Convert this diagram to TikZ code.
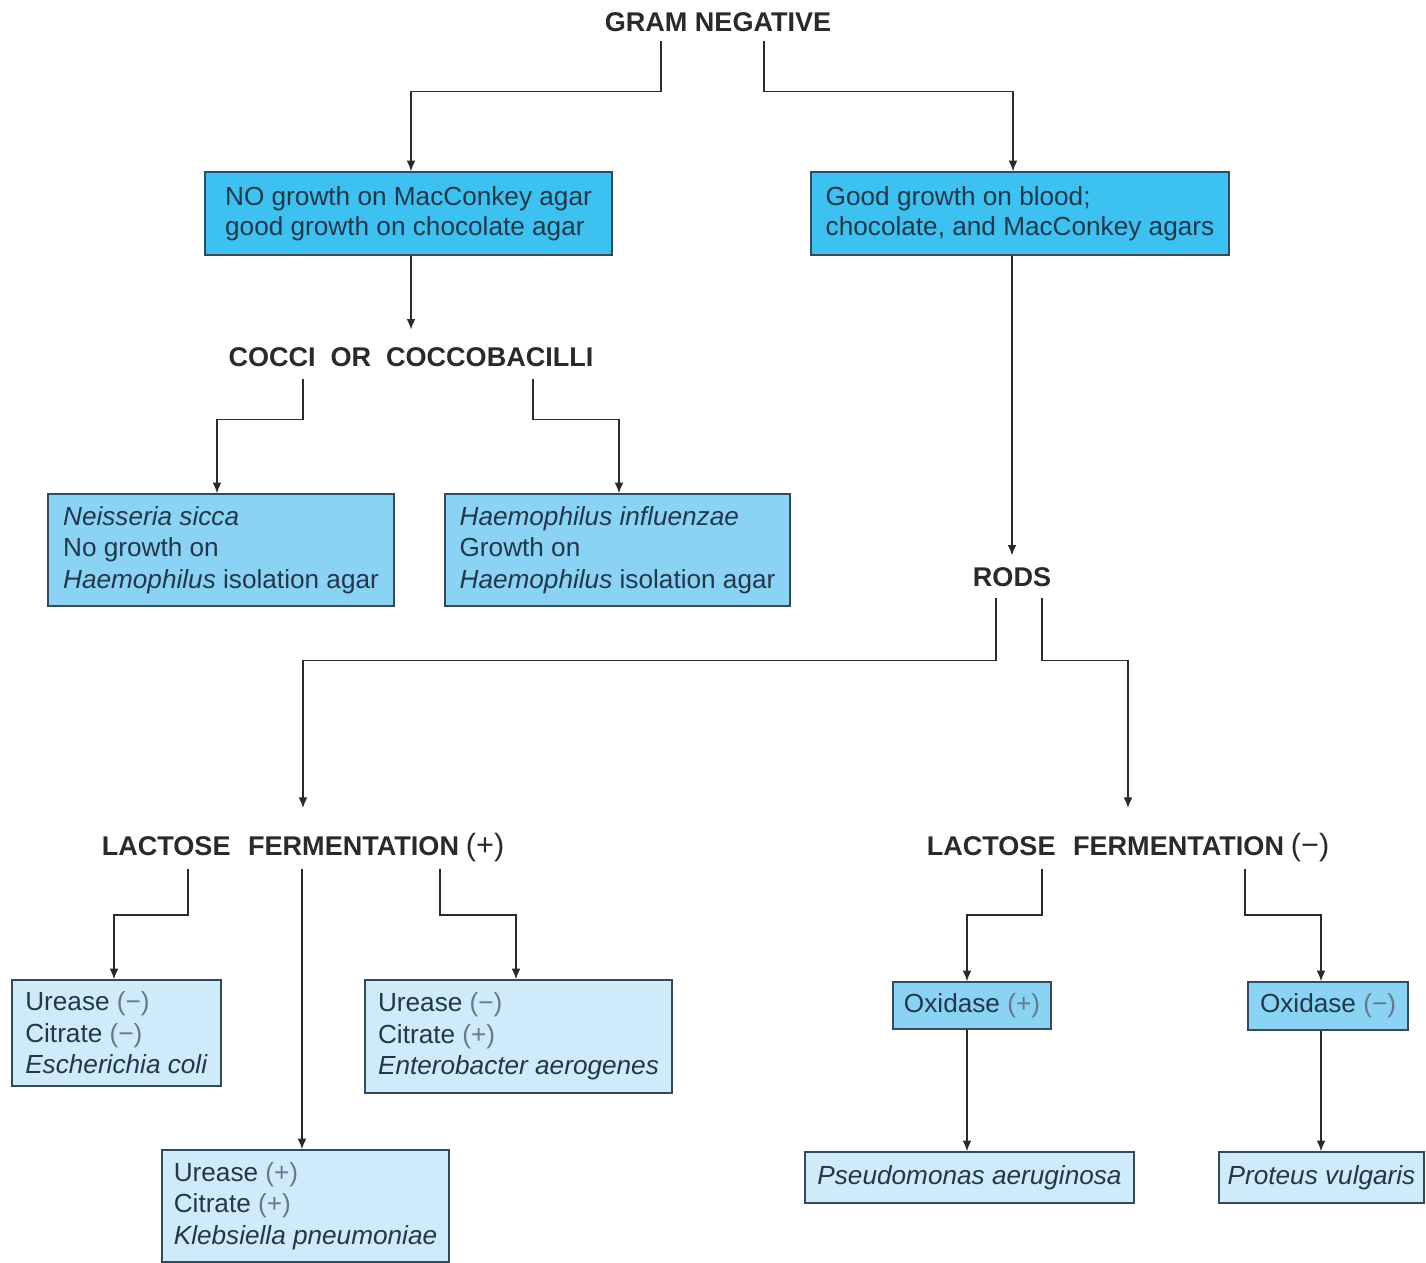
\documentclass[tikz,border=0pt]{standalone}
\usepackage{fontspec}
\setmainfont{Liberation Sans}
\newfontfamily\headfont{Liberation Sans}
\usetikzlibrary{arrows.meta,calc}

\definecolor{darkbox}{HTML}{3DC1F0}
\definecolor{midbox}{HTML}{8AD3F4}
\definecolor{lightbox}{HTML}{CFEBFA}
\definecolor{boxline}{HTML}{34495A}
\definecolor{boxtext}{HTML}{22384A}
\definecolor{signtext}{HTML}{66798A}
\definecolor{headtext}{HTML}{2A2A2A}

\newcommand{\pos}{{\color{signtext}(+)}}
\newcommand{\negt}{{\color{signtext}(−)}}
\newcommand{\headsign}[1]{{\mdseries\fontsize{17.5}{18}\selectfont(#1)}}

\begin{document}
\begin{tikzpicture}[x=0.02cm,y=-0.02cm,
    head/.style={font=\headfont\fontsize{15.4}{18}\selectfont\bfseries, text=headtext, inner sep=0pt, outer sep=0pt, text depth=0pt},
    testbox/.style={draw=boxline, line width=0.9pt, text=boxtext, align=left, inner sep=0pt,
        font=\fontsize{14.9}{18}\selectfont},
    flow/.style={draw=headtext, line width=0.8pt, -{Latex[length=6pt,width=5pt]}}]
    \useasboundingbox (0,0) rectangle (1426,1263);

    \node[head] (gram) at (718,22) {GRAM NEGATIVE};

    \node[testbox, fill=darkbox, minimum width=8.14cm, minimum height=1.66cm, font=\fontsize{14.9}{17}\selectfont]
        (nomac) at (408.5,213.5) {NO growth on MacConkey agar\\good growth on chocolate agar};
    \node[testbox, fill=darkbox, minimum width=8.36cm, minimum height=1.66cm, font=\fontsize{14.9}{17}\selectfont]
        (goodmac) at (1020,213.5) {Good growth on blood;\\chocolate, and MacConkey agars};

    \node[head] (cocci) at (411,357) {COCCI\hspace{0.55em}OR\hspace{0.55em}COCCOBACILLI};

    \node[testbox, fill=midbox, minimum width=6.92cm, minimum height=2.24cm]
        (neisseria) at (221,550) {\textit{Neisseria sicca}\\No growth on\\\textit{Haemophilus} isolation agar};
    \node[testbox, fill=midbox, minimum width=6.9cm, minimum height=2.24cm]
        (haemo) at (617.5,550) {\textit{Haemophilus influenzae}\\Growth on\\\textit{Haemophilus} isolation agar};

    \node[head] (rods) at (1012,577) {RODS};

    \node[head] (lacpos) at (303,844) {LACTOSE\hspace{0.65em}FERMENTATION\hspace{0.25em}\headsign{+}};
    \node[head] (lacneg) at (1128,844) {LACTOSE\hspace{0.65em}FERMENTATION\hspace{0.25em}\headsign{−}};

    \node[testbox, fill=lightbox, minimum width=4.18cm, minimum height=2.12cm]
        (ecoli) at (116.5,1033) {Urease \negt\\Citrate \negt\\\textit{Escherichia coli}};
    \node[testbox, fill=lightbox, minimum width=6.14cm, minimum height=2.26cm]
        (entero) at (518.5,1036.5) {Urease \negt\\Citrate \pos\\\textit{Enterobacter aerogenes}};
    \node[testbox, fill=lightbox, minimum width=5.74cm, minimum height=2.24cm]
        (klebs) at (305.5,1206) {Urease \pos\\Citrate \pos\\\textit{Klebsiella pneumoniae}};

    \node[testbox, fill=midbox, minimum width=3.16cm, minimum height=0.94cm]
        (oxpos) at (972,1005.5) {Oxidase \pos};
    \node[testbox, fill=midbox, minimum width=3.2cm, minimum height=0.96cm]
        (oxneg) at (1328,1006) {Oxidase \negt};

    \node[testbox, fill=lightbox, minimum width=6.58cm, minimum height=1.02cm]
        (pseudo) at (969.5,1177.5) {\textit{Pseudomonas aeruginosa}};
    \node[testbox, fill=lightbox, minimum width=4.1cm, minimum height=1.02cm]
        (proteus) at (1321.5,1177.5) {\textit{Proteus vulgaris}};

    \coordinate (lacmid) at ($(lacpos.south)+(-1,14)$);
    \coordinate (oxposout) at ($(oxpos.south)+(-5,0)$);
    \coordinate (oxnegout) at ($(oxneg.south)+(-7,0)$);

    \draw[flow] ($(gram.south)+(-57,10)$) -- ++(0,50) -| ($(nomac.north)+(2.5,0)$);
    \draw[flow] ($(gram.south)+(46,10)$) -- ++(0,50) -| ($(goodmac.north)+(-7,0)$);
    \draw[flow] (cocci.north |- nomac.south) -- ($(cocci.north)+(0,-18)$);

    \draw[flow] ($(cocci.south)+(-108,13)$) -- ++(0,40) -| ($(neisseria.north)+(-4,0)$);
    \draw[flow] ($(cocci.south)+(122,13)$) -- ++(0,40) -| ($(haemo.north)+(1.5,0)$);

    \draw[flow] (rods.north |- goodmac.south) -- ($(rods.north)+(0,-12)$);
    \draw[flow] ($(rods.south)+(-16,12)$) -- ++(0,62) -| (lacpos.north |- 0,808);
    \draw[flow] ($(rods.south)+(30,12)$) -- ++(0,62) -| (lacneg.north |- 0,808);

    \draw[flow] ($(lacpos.south)+(-115,14)$) -- ++(0,46) -| ($(ecoli.north)+(-2.5,0)$);
    \draw[flow] (lacmid) -- (lacmid |- klebs.north);
    \draw[flow] ($(lacpos.south)+(137,14)$) -- ++(0,46) -| ($(entero.north)+(-2.5,0)$);

    \draw[flow] ($(lacneg.south)+(-86,14)$) -- ++(0,46) -| ($(oxpos.north)+(-5,0)$);
    \draw[flow] ($(lacneg.south)+(117,14)$) -- ++(0,46) -| ($(oxneg.north)+(-7,0)$);

    \draw[flow] (oxposout) -- (oxposout |- pseudo.north);
    \draw[flow] (oxnegout) -- (oxnegout |- proteus.north);
\end{tikzpicture}
\end{document}
